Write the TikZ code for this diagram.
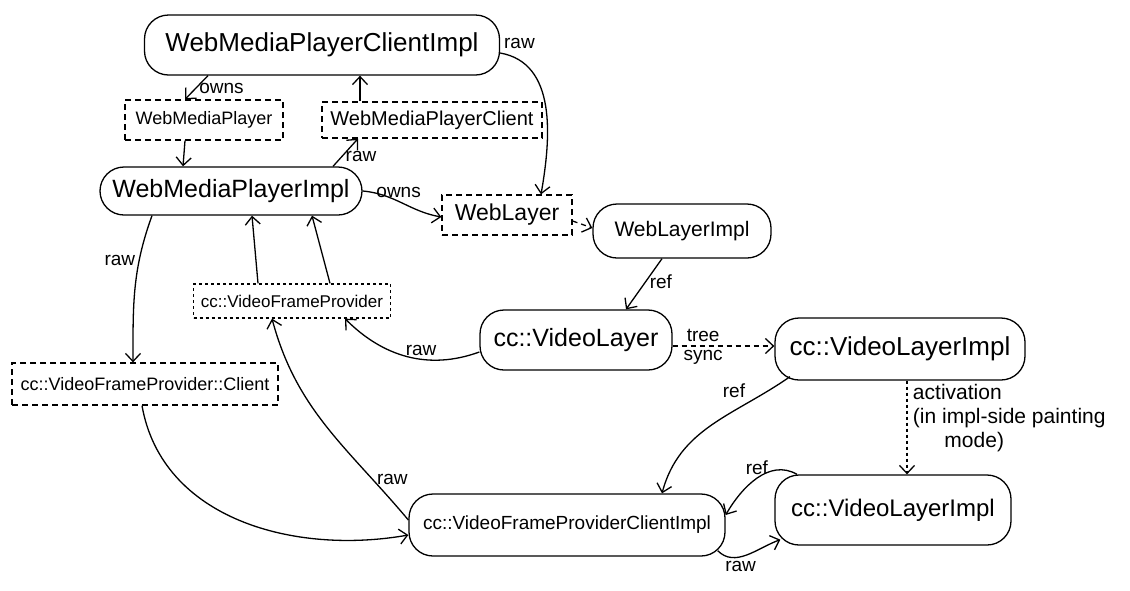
\documentclass[tikz,border=0pt]{standalone}
\usepackage{fontspec}
\setmainfont{Liberation Sans}
\usetikzlibrary{arrows.meta}
\newcommand{\txtsize}[1]{\fontsize{#1}{#1}\selectfont}
\tikzset{
    ->, % every connector is directed
    >={Straight Barb[length=8pt,width=15pt]}, % open heads as in the sketch
    impl/.style={draw, rectangle, rounded corners=24pt, inner sep=0pt}, % concrete classes
    iface/.style={draw, rectangle, dash pattern=on 6pt off 4pt, inner sep=0pt}, % interfaces
    dotbox/.style={draw, rectangle, dash pattern=on 3pt off 3pt, inner sep=0pt},
    weak/.style={dash pattern=on 5pt off 4pt}, % tree sync and friends
    lbl/.style={font=\txtsize{19}}, % text on the edges
}
\begin{document}
\begin{tikzpicture}[x=1pt, y=1pt, line width=1.3pt]
\useasboundingbox (0,0) rectangle (1130,-590);
% blink side
\node[impl, minimum width=355pt, minimum height=60pt, font=\txtsize{26}] (wmpci) at (322,-45) {WebMediaPlayerClientImpl};
\node[iface, minimum width=158pt, minimum height=40pt, font=\txtsize{18}] (wmp) at (204,-120) {WebMediaPlayer};
\node[iface, minimum width=220pt, minimum height=36pt, font=\txtsize{20}] (wmpc) at (432,-120) {WebMediaPlayerClient};
\node[impl, minimum width=262pt, minimum height=48pt, font=\txtsize{25}] (wmpi) at (231,-191) {WebMediaPlayerImpl};
\node[iface, minimum width=130pt, minimum height=40pt, font=\txtsize{23}] (weblayer) at (507,-215) {WebLayer};
\node[impl, minimum width=178pt, minimum height=54pt, font=\txtsize{21}] (weblayerimpl) at (682,-231) {WebLayerImpl};
% cc side
\node[dotbox, minimum width=197pt, minimum height=34pt, font=\txtsize{17}] (vfp) at (292,-301) {cc::VideoFrameProvider};
\node[impl, minimum width=192pt, minimum height=60pt, font=\txtsize{25}] (videolayer) at (576,-340) {cc::VideoLayer};
\node[impl, minimum width=250pt, minimum height=62pt, font=\txtsize{26}] (videolayerimpl) at (900,-349) {cc::VideoLayerImpl};
\node[iface, minimum width=266pt, minimum height=42pt, font=\txtsize{18}] (vfpclient) at (145,-384) {cc::VideoFrameProvider::Client};
\node[impl, minimum width=316pt, minimum height=62pt, font=\txtsize{19}] (vfpci) at (567,-525) {cc::VideoFrameProviderClientImpl};
\node[impl, minimum width=236pt, minimum height=70pt, font=\txtsize{24}] (activelayerimpl) at (893,-510) {cc::VideoLayerImpl};

\draw ([xshift=-114pt]wmpci.south) -- node[lbl, right, pos=0.55] {owns} ([xshift=-19pt]wmp.north);
\draw ([xshift=-72pt]wmpc.north) -- ([xshift=38pt]wmpci.south);
\draw ([xshift=102pt]wmpi.north) -- node[lbl, right, pos=0.35] {raw} ([xshift=-74pt]wmpc.south);
\draw ([xshift=-19pt]wmp.south) -- ([xshift=-48pt]wmpi.north);
\draw ([yshift=-8pt]wmpci.east) to[out=-10, in=80] node[lbl, pos=0, above right] {raw} ([xshift=34pt]weblayer.north);
\draw (wmpi.east) to[out=-5, in=170] node[lbl, pos=0.45, above] {owns} ([yshift=-2pt]weblayer.west);
\draw[weak] ([yshift=-6pt]weblayer.east) -- ([yshift=3pt]weblayerimpl.west);
\draw ([xshift=-20pt]weblayerimpl.south) -- node[lbl, right, pos=0.45] {ref} ([xshift=50pt]videolayer.north);
\draw ([yshift=-12pt]videolayer.west) to[out=200, in=-45] node[lbl, pos=0.4, above] {raw} ([xshift=53pt]vfp.south);
\draw ([xshift=-34pt]vfp.north) -- ([xshift=21pt]wmpi.south);
\draw ([xshift=38pt]vfp.north) -- ([xshift=81pt]wmpi.south);
\draw ([xshift=-79pt]wmpi.south) to[out=-110, in=90] node[lbl, pos=0.3, left] {raw} ([xshift=-12pt]vfpclient.north);
\draw[weak] ([yshift=-6pt]videolayer.east) -- node[lbl, pos=0.3, above] {tree} node[lbl, pos=0.3, below] {sync} ([yshift=3pt]videolayerimpl.west);
\draw ([xshift=-3pt]vfpclient.south) to[out=-80, in=190] ([yshift=-10pt]vfpci.west);
\draw ([yshift=5pt]vfpci.west) to[out=130, in=-75] node[lbl, pos=0.2, right] {raw} ([xshift=-20pt]vfp.south);
\draw ([xshift=-110pt, yshift=4pt]videolayerimpl.south) to[out=215, in=75] node[lbl, pos=0.25, above left] {ref} ([xshift=95pt]vfpci.north);
\draw[dash pattern=on 3pt off 3pt] ([xshift=7pt]videolayerimpl.south) -- node[pos=0, anchor=north west, align=left, font={\fontsize{21}{24}\selectfont}, xshift=2pt] {activation\\(in impl-side painting\\\hspace{1.5em}mode)} ([xshift=7pt]videolayerimpl.south |- activelayerimpl.north);
\draw ([xshift=-96pt]activelayerimpl.north) to[out=150, in=60] node[lbl, pos=0.5, above] {ref} ([yshift=10pt]vfpci.east);
\draw ([xshift=-8pt, yshift=6pt]vfpci.south east) to[out=-45, in=200] node[lbl, pos=0.4, below] {raw} ([xshift=6pt, yshift=6pt]activelayerimpl.south west);
\end{tikzpicture}
\end{document}
